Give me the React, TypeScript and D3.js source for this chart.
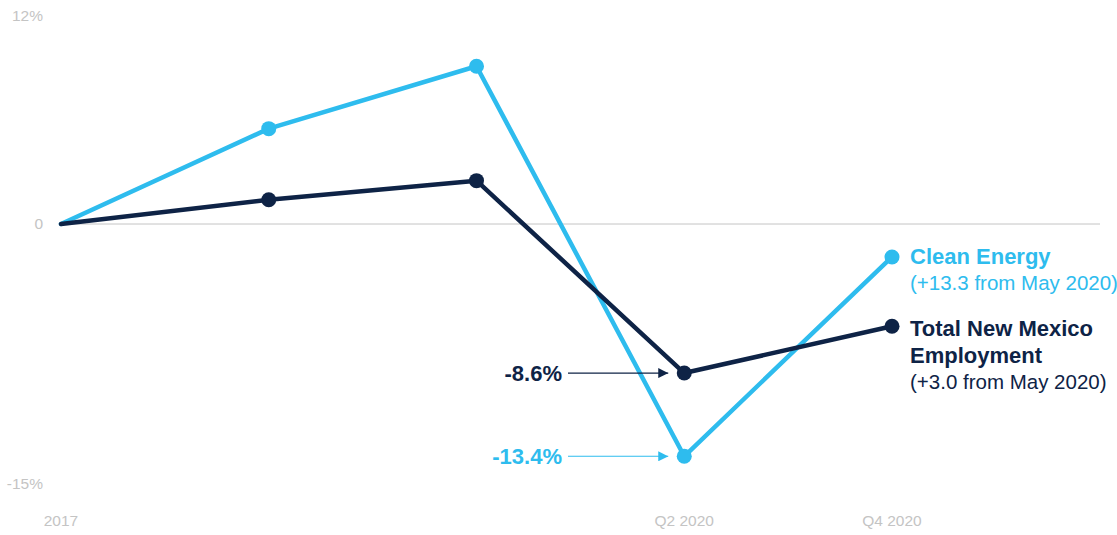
import React from "react";
import * as d3 from "d3";

const periods = ["2017", "P2", "P3", "Q2 2020", "Q4 2020"];
const xTickLabels = ["2017", "", "", "Q2 2020", "Q4 2020"];
const cleanEnergy = [0, 5.5, 9.1, -13.4, -1.9];
const totalEmployment = [0, 1.4, 2.5, -8.6, -5.9];
const yTicks = [12, 0, -15];
const yTickLabels = ["12%", "0", "-15%"];

const W = 1117;
const H = 535;
const LIGHT = "#2ebcee";
const DARK = "#0e2346";
const GRAY = "#c4c4c4";
const FONT = "'Liberation Sans', Arial, sans-serif";
const TICKFONT = "'Liberation Sans', Arial, sans-serif";

export default function App() {
  const x = d3.scalePoint<string>().domain(periods).range([61, 892]);
  const y = d3.scaleLinear().domain([-15, 12]).range([484, 16]);
  const line = d3
    .line<number>()
    .x((_, i) => x(periods[i]) as number)
    .y((d) => y(d));

  const series = [
    { values: cleanEnergy, color: LIGHT },
    { values: totalEmployment, color: DARK },
  ];

  const q2 = x("Q2 2020") as number;

  return (
    <svg width={W} height={H} style={{ position: "absolute", left: 0, top: 0 }}>
      <defs>
        <marker id="arrDark" viewBox="0 0 10 10" refX="10" refY="5" markerWidth="10" markerHeight="10" markerUnits="userSpaceOnUse" orient="auto">
          <path d="M0,0 L10,5 L0,10 z" fill={DARK} />
        </marker>
        <marker id="arrLight" viewBox="0 0 10 10" refX="10" refY="5" markerWidth="10" markerHeight="10" markerUnits="userSpaceOnUse" orient="auto">
          <path d="M0,0 L10,5 L0,10 z" fill={LIGHT} />
        </marker>
      </defs>
      <rect width={W} height={H} fill="#fff" />
      <line x1={61} x2={1100} y1={y(0)} y2={y(0)} stroke={GRAY} strokeWidth={1} />
      {yTicks.map((t, i) => (
        <text key={t} x={43} y={y(t)} dy="0.35em" textAnchor="end" fill={GRAY} fontFamily={TICKFONT} fontSize={15.5}>
          {yTickLabels[i]}
        </text>
      ))}
      {periods.map((p, i) =>
        xTickLabels[i] ? (
          <text key={p} x={x(p) as number} y={521} dy="0.35em" textAnchor="middle" fill={GRAY} fontFamily={TICKFONT} fontSize={15.5}>
            {xTickLabels[i]}
          </text>
        ) : null
      )}
      {series.map((s, k) => (
        <g key={k}>
          <path d={line(s.values) || ""} fill="none" stroke={s.color} strokeWidth={4.5} strokeLinejoin="round" strokeLinecap="round" />
          {s.values.map((v, i) => (
            i > 0 ? <circle key={i} cx={x(periods[i]) as number} cy={y(v)} r={7.5} fill={s.color} /> : null
          ))}
        </g>
      ))}
      {/* annotations */}
      <text x={562} y={y(totalEmployment[3])} dy="0.35em" textAnchor="end" fill={DARK} fontFamily={FONT} fontSize={22} fontWeight="bold">-8.6%</text>
      <line x1={568} x2={q2 - 16} y1={y(totalEmployment[3])} y2={y(totalEmployment[3])} stroke={DARK} strokeWidth={1.2} markerEnd="url(#arrDark)" />
      <text x={562} y={y(cleanEnergy[3])} dy="0.35em" textAnchor="end" fill={LIGHT} fontFamily={FONT} fontSize={22} fontWeight="bold">-13.4%</text>
      <line x1={568} x2={q2 - 16} y1={y(cleanEnergy[3])} y2={y(cleanEnergy[3])} stroke={LIGHT} strokeWidth={1.2} markerEnd="url(#arrLight)" />
      {/* legend labels */}
      <text x={910} y={264} fill={LIGHT} fontFamily={FONT} fontSize={22} fontWeight="bold">Clean Energy</text>
      <text x={910} y={290} fill={LIGHT} fontFamily={FONT} fontSize={20.5}>(+13.3 from May 2020)</text>
      <text x={910} y={336} fill={DARK} fontFamily={FONT} fontSize={22} fontWeight="bold">Total New Mexico</text>
      <text x={910} y={363} fill={DARK} fontFamily={FONT} fontSize={22} fontWeight="bold">Employment</text>
      <text x={910} y={389} fill={DARK} fontFamily={FONT} fontSize={20.5}>(+3.0 from May 2020)</text>
    </svg>
  );
}
